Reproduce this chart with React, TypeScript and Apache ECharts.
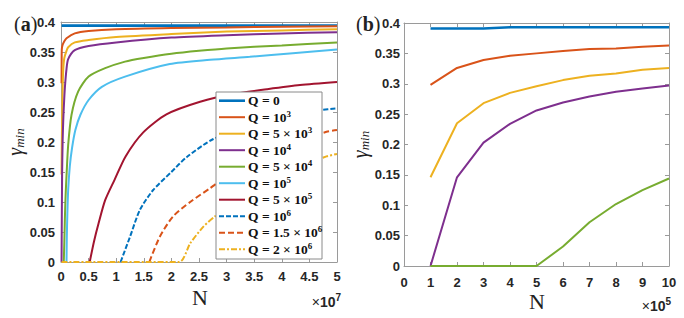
import React, { useEffect, useRef } from "react";
import * as echarts from "echarts";

// ---------- Data ----------
// Left panel (a): N in units of 1e7
const qLabels = ["0", "10^3", "5 × 10^3", "10^4", "5 × 10^4", "10^5", "5 × 10^5", "10^6", "1.5 × 10^6", "2 × 10^6"];

const q0Left = [[0.01, 0.394], [1, 0.394], [2, 0.394], [3, 0.394], [4, 0.394], [5, 0.394]];
const q1e3Left = [[0.01, 0.298], [0.012, 0.34], [0.015, 0.355], [0.03, 0.362], [0.06, 0.368], [0.1, 0.373], [0.25, 0.381], [0.5, 0.385], [1, 0.388], [2, 0.39], [3, 0.391], [4, 0.392], [5, 0.393]];
const q5e3Left = [[0.01, 0.146], [0.02, 0.24], [0.03, 0.29], [0.04, 0.32], [0.06, 0.34], [0.1, 0.352], [0.13, 0.358], [0.25, 0.366], [0.5, 0.37], [1, 0.375], [2, 0.38], [3, 0.384], [4, 0.386], [5, 0.388]];
const q1e4Left = [[0.01, 0], [0.02, 0.146], [0.03, 0.203], [0.04, 0.234], [0.05, 0.256], [0.07, 0.29], [0.1, 0.322], [0.13, 0.338], [0.25, 0.353], [0.5, 0.36], [1, 0.366], [2, 0.374], [3, 0.378], [4, 0.381], [5, 0.383]];
const q5e4Left = [[0.05, 0], [0.06, 0.032], [0.07, 0.072], [0.08, 0.102], [0.09, 0.125], [0.1, 0.144], [0.13, 0.195], [0.19, 0.245], [0.31, 0.284], [0.5, 0.309], [0.8, 0.323], [1.16, 0.334], [1.5, 0.34], [2, 0.347], [2.5, 0.352], [3, 0.356], [4, 0.361], [5, 0.366]];
const q1e5Left = [[0.1, 0], [0.105, 0.04], [0.115, 0.08], [0.13, 0.12], [0.16, 0.16], [0.2, 0.19], [0.26, 0.22], [0.35, 0.245], [0.5, 0.27], [0.74, 0.292], [1.16, 0.309], [1.97, 0.33], [2.7, 0.337], [3.42, 0.342], [4.2, 0.348], [5, 0.354]];
const q5e5Left = [[0.52, 0], [0.6, 0.035], [0.68, 0.064], [0.8, 0.103], [0.97, 0.137], [1.17, 0.176], [1.49, 0.216], [1.91, 0.246], [2.52, 0.267], [3.12, 0.28], [3.73, 0.288], [4.33, 0.295], [5, 0.3]];
const q1e6Left = [[1.08, 0], [1.25, 0.042], [1.43, 0.087], [1.67, 0.12], [2.0, 0.15], [2.28, 0.175], [2.76, 0.205], [3.5, 0.23], [4.2, 0.246], [4.69, 0.253], [5, 0.256]];
const q15e6Left = [[1.6, 0], [1.79, 0.042], [2.03, 0.076], [2.34, 0.1], [2.7, 0.123], [2.82, 0.131], [3.5, 0.17], [4.2, 0.198], [4.81, 0.217], [5, 0.22]];
const q2e6Left = [[0.01, 0], [2.14, 0], [2.34, 0.031], [2.58, 0.059], [2.79, 0.076], [3.5, 0.125], [4.2, 0.155], [4.81, 0.176], [5, 0.18]];

// Right panel (b): N in units of 1e5
const nRight = [1, 2, 3, 4, 5, 6, 7, 8, 9, 10];
const q0Right = [0.391, 0.391, 0.391, 0.393, 0.393, 0.393, 0.393, 0.393, 0.393, 0.393];
const q1e3Right = [0.298, 0.326, 0.339, 0.346, 0.35, 0.354, 0.357, 0.358, 0.361, 0.363];
const q5e3Right = [0.146, 0.235, 0.268, 0.285, 0.296, 0.306, 0.313, 0.317, 0.323, 0.326];
const q1e4Right = [0, 0.146, 0.203, 0.234, 0.256, 0.269, 0.279, 0.287, 0.292, 0.297];
const q5e4Right = [0, 0, 0, 0, 0, 0.032, 0.072, 0.102, 0.125, 0.144];

const colors = ["#0072BD", "#D95319", "#EDB120", "#7E2F8E", "#77AC30", "#4DBEEE", "#A2142F", "#0072BD", "#D95319", "#EDB120"];
const dashes: any[] = ["solid", "solid", "solid", "solid", "solid", "solid", "solid", [5, 2], [6, 3], [6, 2, 2, 2]];

const leftSeriesData = [q0Left, q1e3Left, q5e3Left, q1e4Left, q5e4Left, q1e5Left, q5e5Left, q1e6Left, q15e6Left, q2e6Left];
const rightSeriesData = [q0Right, q1e3Right, q5e3Right, q1e4Right, q5e4Right];

const GRID_COLOR = "#9a9a9a";
const LABEL = { fontFamily: "Liberation Sans", fontWeight: "bold" as const, fontSize: 13, color: "#262626" };
const GAMMA_NAME = {
  name: "{g|γ}{s|min}",
  nameLocation: "middle",
  nameRotate: 90,
  nameTextStyle: {
    rich: {
      g: { fontFamily: "Liberation Serif", fontStyle: "italic", fontSize: 20, color: "#222" },
      s: { fontFamily: "Liberation Serif", fontStyle: "italic", fontSize: 13, color: "#222", verticalAlign: "bottom", padding: [8, 0, 0, 0] },
    },
  },
};

function boxAxes(gridIndex: number, xMax: number, xInt: number, xMargin: number, yMargin: number, nameGap: number) {
  const line = { show: true, onZero: false, lineStyle: { color: GRID_COLOR, width: 1 } };
  const tick = { show: true, inside: true, length: 4, lineStyle: { color: GRID_COLOR } };
  const xs = [
    { gridIndex, type: "value", min: 0, max: xMax, interval: xInt, position: "bottom", axisLine: line, axisTick: tick, splitLine: { show: false }, axisLabel: { ...LABEL, margin: xMargin } },
    { gridIndex, type: "value", min: 0, max: xMax, interval: xInt, position: "top", axisLine: line, axisTick: tick, splitLine: { show: false }, axisLabel: { show: false } },
  ];
  const ys = [
    { gridIndex, type: "value", min: 0, max: 0.4, interval: 0.05, position: "left", axisLine: line, axisTick: tick, splitLine: { show: false }, axisLabel: { ...LABEL, margin: yMargin }, ...GAMMA_NAME, nameGap },
    { gridIndex, type: "value", min: 0, max: 0.4, interval: 0.05, position: "right", axisLine: line, axisTick: tick, splitLine: { show: false }, axisLabel: { show: false } },
  ];
  return { xs, ys };
}

function legendRich(label: string) {
  const parts = label.split("^");
  return parts.length > 1 ? `{n|Q = ${parts[0]}}{s|${parts[1]}}` : `{n|Q = ${parts[0]}}`;
}

export default function App() {
  const ref = useRef<HTMLDivElement>(null);
  useEffect(() => {
    if (!ref.current) return;
    const chart = echarts.init(ref.current, null, { renderer: "svg" });
    const a = boxAxes(0, 5, 0.5, 8, 6, 20);
    const b = boxAxes(1, 10, 1, 10, 4, 20);

    const series: any[] = [];
    leftSeriesData.forEach((d, i) => {
      series.push({
        type: "line", name: "Q = " + qLabels[i], xAxisIndex: 0, yAxisIndex: 0, data: d,
        showSymbol: false, symbol: "none", smooth: 0.25,
        lineStyle: { color: colors[i], width: i === 0 ? 2.6 : 2, type: dashes[i] }, z: 2,
      });
    });
    rightSeriesData.forEach((d, i) => {
      series.push({
        type: "line", name: "Q = " + qLabels[i] + " (b)", xAxisIndex: 2, yAxisIndex: 2,
        data: nRight.map((n, k) => [n, d[k]]),
        showSymbol: false, symbol: "none",
        lineStyle: { color: colors[i], width: i === 0 ? 2.6 : 2 }, z: 2,
      });
    });

    const legendX = 216, legendY = 92, rowH = 16.5, firstRow = 100.7;
    const legendChildren: any[] = [
      { type: "rect", shape: { x: legendX, y: legendY, width: 106, height: 167 }, style: { fill: "#fff", stroke: "#8a8a8a", lineWidth: 1 }, z: 100 },
    ];
    qLabels.forEach((q, i) => {
      const y = firstRow + i * rowH;
      legendChildren.push({
        type: "line", shape: { x1: 219, y1: y, x2: 245, y2: y },
        style: { stroke: colors[i], lineWidth: i === 0 ? 2.6 : 2, lineDash: dashes[i] === "solid" ? null : dashes[i] }, z: 101,
      });
      legendChildren.push({
        type: "text", x: 248, y: y, z: 101,
        style: {
          text: legendRich(q), textVerticalAlign: "middle", textAlign: "left",
          rich: {
            n: { fontFamily: "Liberation Serif", fontWeight: "bold", fontSize: 13.5, fill: "#111" },
            s: { fontFamily: "Liberation Serif", fontWeight: "bold", fontSize: 9, fill: "#111", verticalAlign: "top", padding: [0, 0, 7, 0] },
          },
        },
      });
    });

    const panelTag = (x: number, letter: string) => ({
      type: "text", x, y: 24, z: 50,
      style: {
        text: `{p|(}{b|${letter}}{p|)}`, textVerticalAlign: "middle", textAlign: "left",
        rich: {
          p: { fontFamily: "Liberation Serif", fontSize: 20, fill: "#222" },
          b: { fontFamily: "Liberation Serif", fontSize: 20, fontWeight: "bold", fill: "#222" },
        },
      },
    });
    const nLabel = (x: number, y: number) => ({
      type: "text", x, y, z: 50,
      style: { text: "N", font: '22px "Liberation Serif"', fill: "#222", textAlign: "center", textVerticalAlign: "middle" },
    });
    const expLabel = (x: number, y: number, e: string) => ({
      type: "text", x, y, z: 50,
      style: {
        text: `{x|×}{t|10}{s|${e}}`, textVerticalAlign: "middle", textAlign: "right",
        rich: {
          x: { fontFamily: "Liberation Sans", fontSize: 14, fill: "#262626" },
          t: { fontFamily: "Liberation Sans", fontSize: 14, fontWeight: "bold", fill: "#262626" },
          s: { fontFamily: "Liberation Sans", fontSize: 10, fontWeight: "bold", fill: "#262626", verticalAlign: "top", padding: [0, 0, 9, 0] },
        },
      },
    });

    chart.setOption({
      animation: false,
      backgroundColor: "#fff",
      grid: [
        { left: 61, top: 22, width: 276, height: 240 },
        { left: 404, top: 23, width: 265, height: 243 },
      ],
      xAxis: [...a.xs, ...b.xs],
      yAxis: [...a.ys, ...b.ys],
      series,
      graphic: [
        ...legendChildren,
        panelTag(14, "a"),
        panelTag(356, "b"),
        nLabel(200, 297),
        nLabel(537, 301),
        expLabel(341, 302, "7"),
        expLabel(671, 306, "5"),
      ],
    });
    return () => chart.dispose();
  }, []);
  return <div ref={ref} style={{ position: "absolute", left: 0, top: 0, width: 684, height: 318, background: "#fff" }} />;
}
